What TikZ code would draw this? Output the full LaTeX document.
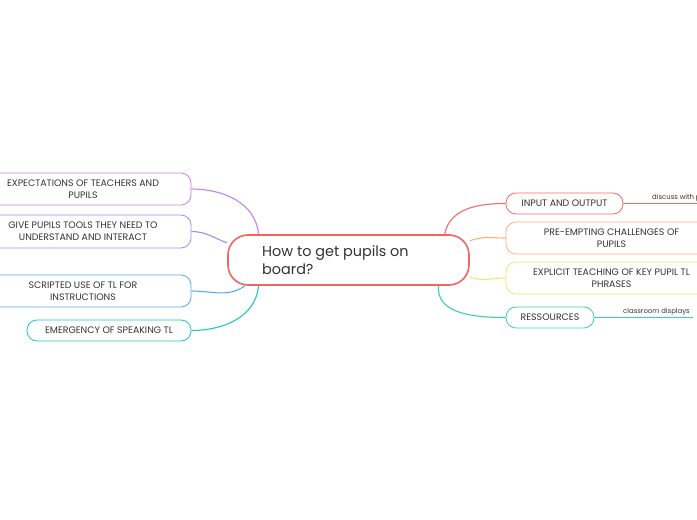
\documentclass[tikz,border=0pt]{standalone}
\usepackage{fontspec}
\setmainfont{Poppins}
\usetikzlibrary{backgrounds}
\definecolor{hubred}{HTML}{F26464}
\definecolor{mmpurple}{HTML}{C882E6}
\definecolor{mmlavender}{HTML}{9E8CF5}
\definecolor{mmblue}{HTML}{5AAAF0}
\definecolor{mmcyan}{HTML}{22C5CC}
\definecolor{mmred}{HTML}{F46A6A}
\definecolor{mmorange}{HTML}{FFB07A}
\definecolor{mmyellow}{HTML}{F5E66A}
\definecolor{mmgreen}{HTML}{3DD2A0}
\definecolor{inkgray}{HTML}{333333}

\begin{document}
\begin{tikzpicture}[x=1pt, y=1pt,
    hub/.style={draw=hubred, line width=1.6pt, fill=white, rounded corners=20pt,
      minimum width=241pt, minimum height=50pt, inner sep=0pt},
    topic/.style={draw=#1, line width=0.8pt, fill=white, rounded corners=10pt,
      inner sep=0pt, align=center, text=inkgray, font=\fontsize{9.4}{12}\selectfont},
    link/.style={draw=#1, line width=1.1pt},
    note/.style={inner sep=0pt, anchor=south west, text=inkgray, font=\fontsize{6.9}{7}\selectfont}]

      \clip (0,0) rectangle (697,520);

      % central topic
      \node[hub] (hub) at (348.5,260) {};
      \node[anchor=west, align=left, text=inkgray, font=\fontsize{14.4}{18.5}\selectfont, inner sep=0pt]
        (hubtxt) at (262,260) {How to get pupils on\\board?};

      % left branches
      \node[topic=mmpurple, minimum width=216pt, minimum height=32pt] (expect) at (83,331) {EXPECTATIONS OF TEACHERS AND\\PUPILS};
      \node[topic=mmlavender, minimum width=216pt, minimum height=33pt] (tools) at (83,288.5) {GIVE PUPILS TOOLS THEY NEED TO\\UNDERSTAND AND INTERACT};
      \node[topic=mmblue, minimum width=216pt, minimum height=32pt] (script) at (83,229) {SCRIPTED USE OF TL FOR\\INSTRUCTIONS};
      \node[topic=mmcyan, minimum width=164pt, minimum height=21pt] (speak) at (109,189.5) {EMERGENCY OF SPEAKING TL};

      % right branches
      \node[topic=mmred, minimum width=117pt, minimum height=21pt] (inout) at (564.5,316.5) {INPUT AND OUTPUT};
      \node[topic=mmorange, minimum width=211pt, minimum height=32pt] (preempt) at (611.5,282) {PRE-EMPTING CHALLENGES OF\\PUPILS};
      \node[topic=mmyellow, minimum width=211pt, minimum height=32pt] (explicit) at (611.5,242) {EXPLICIT TEACHING OF KEY PUPIL TL\\PHRASES};
      \node[topic=mmgreen, minimum width=88pt, minimum height=21pt] (ress) at (550,202.5) {RESSOURCES};

      % notes
      \coordinate (inoutend) at (720,316.5);
      \coordinate (ressend) at (693,202.5);
      \node[note] (discuss) at (652,318.5) {discuss with pupils};
      \node[note] (displays) at (623,204.5) {classroom displays};

      \begin{pgfonlayer}{background}
        \draw[link=mmpurple] (hub.164) to[out=95, in=0] (expect.east);
        \draw[link=mmlavender] (hub.172) to[out=160, in=0] (tools.east);
        \draw[link=mmblue] (hub.194) to[out=215, in=0] (script.east);
        \draw[link=mmcyan] (hub.196) to[out=265, in=0] (speak.east);
        \draw[link=mmred] (hub.15) to[out=80, in=180] (inout.west);
        \draw[link=mmorange] (hub.9) to[out=20, in=180] (preempt.west);
        \draw[link=mmyellow] (hub.352) to[out=-20, in=180] (explicit.west);
        \draw[link=mmgreen] (hub.344) to[out=-95, in=180] (ress.west);
        \draw[link=mmred, line width=0.8pt] (inout.east) -- (inoutend);
        \draw[link=mmgreen, line width=0.8pt] (ress.east) -- (ressend);
      \end{pgfonlayer}

\end{tikzpicture}
\end{document}
